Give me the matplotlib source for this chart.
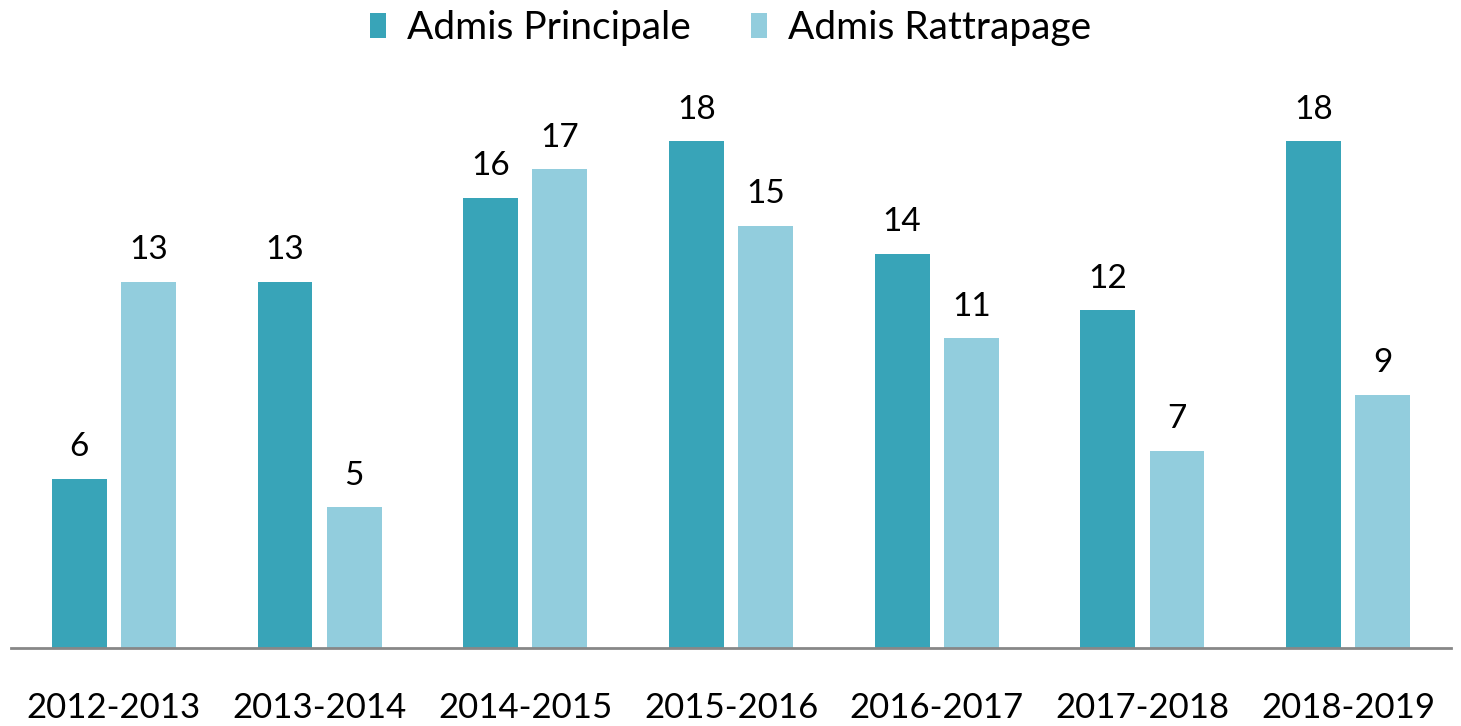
import numpy as np
import matplotlib.pyplot as plt

years = ["2012-2013", "2013-2014", "2014-2015", "2015-2016",
         "2016-2017", "2017-2018", "2018-2019"]
principale = [6, 13, 16, 18, 14, 12, 18]
rattrapage = [13, 5, 17, 15, 11, 7, 9]

dark = "#38A4B8"
light = "#92CDDD"

plt.rcParams["font.family"] = ["Lato", "DejaVu Sans"]

fig = plt.figure(figsize=(14.61, 7.26), dpi=100)
ax = fig.add_axes([11 / 1461, 1 - 648 / 726, 1440 / 1461, 563 / 726])

x = np.arange(len(years))
w = 0.267
b1 = ax.bar(x - 0.168, principale, w, color=dark, label="Admis Principale")
b2 = ax.bar(x + 0.168, rattrapage, w, color=light, label="Admis Rattrapage")

for bars in (b1, b2):
    ax.bar_label(bars, padding=12, fontsize=24, color="black")

ax.set_xlim(-0.5, len(years) - 0.5)
ax.set_ylim(0, 20)
ax.set_xticks(x)
ax.set_xticklabels(years, fontsize=25)
ax.tick_params(axis="x", length=0, pad=32)
ax.set_yticks([])
for s in ["top", "right", "left"]:
    ax.spines[s].set_visible(False)
ax.spines["bottom"].set_color("#878787")
ax.spines["bottom"].set_linewidth(2)

fig.legend(loc="upper center", bbox_to_anchor=(0.5, 1.034), ncol=2,
           frameon=False, fontsize=28, handlelength=0.41, handleheight=0.64,
           handletextpad=0.54, columnspacing=1.54)

fig.savefig("out.png", dpi=100)
